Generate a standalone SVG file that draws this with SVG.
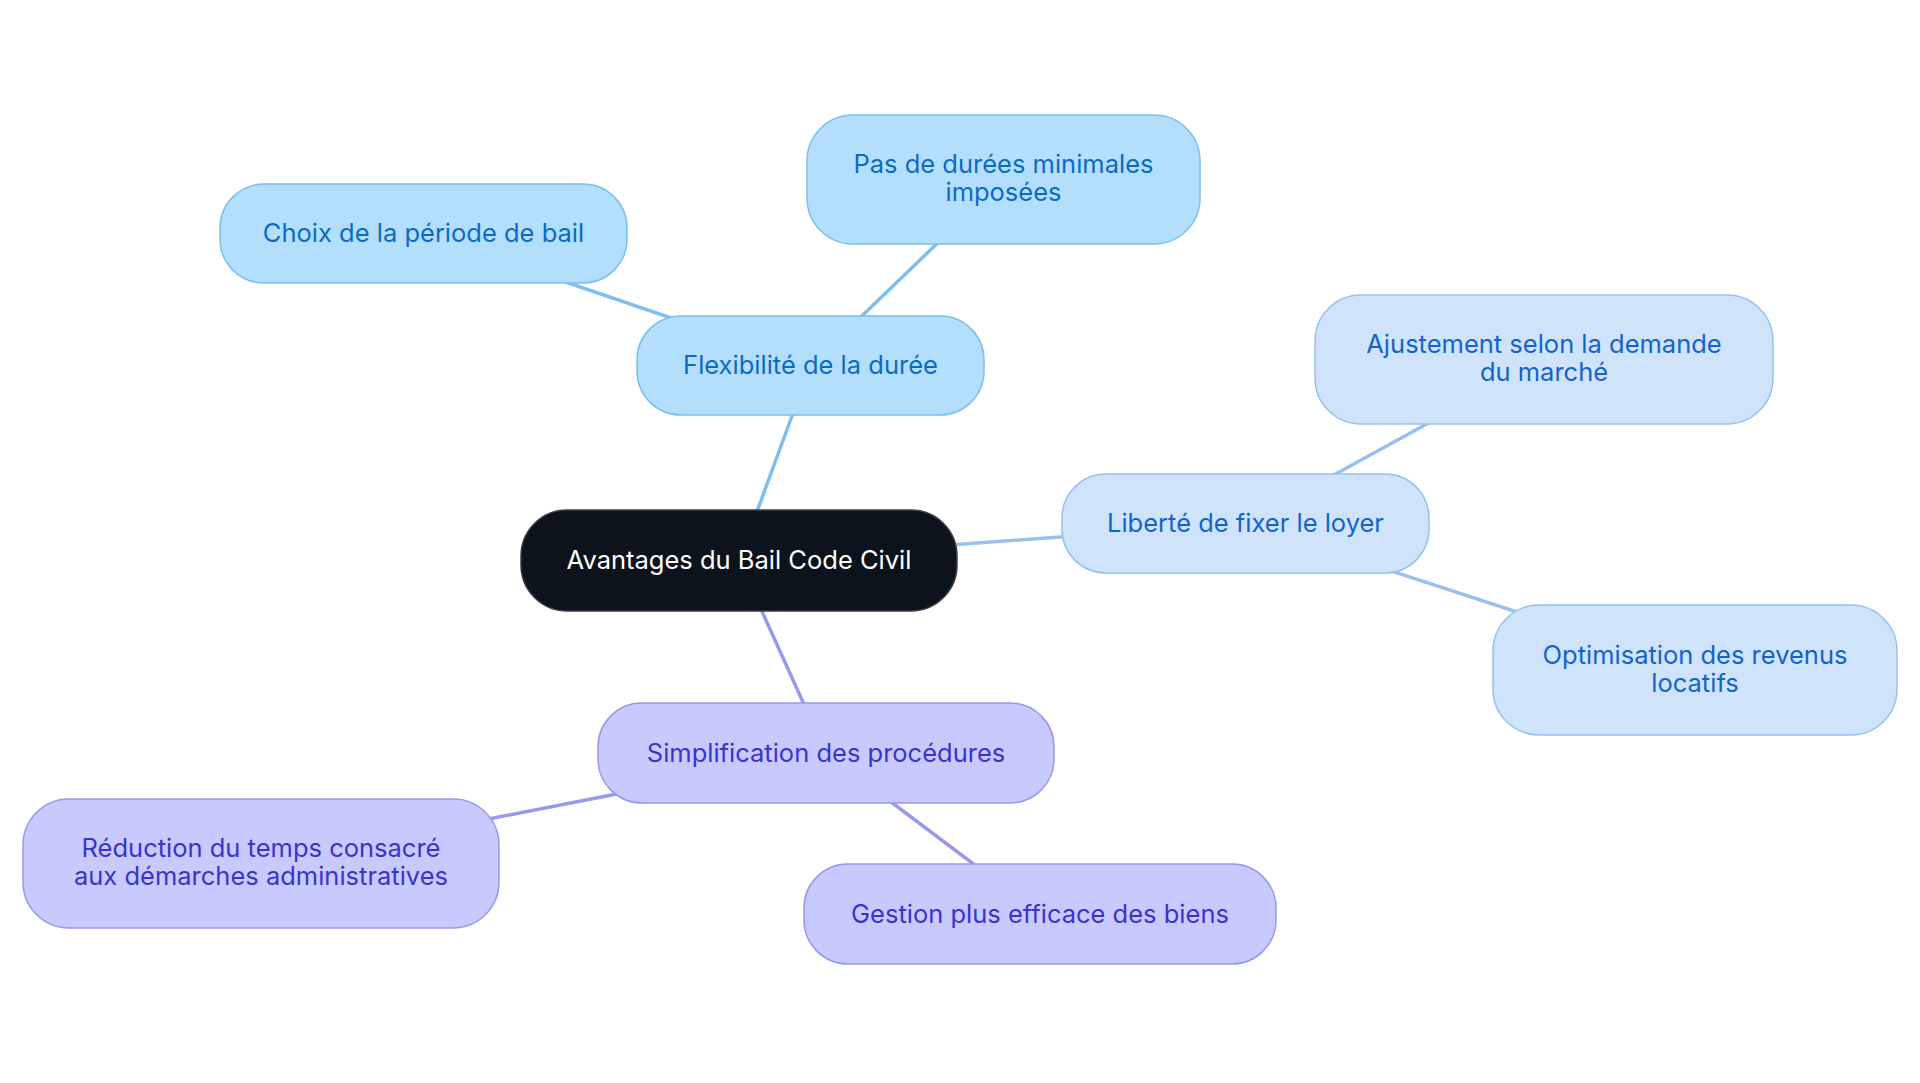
<svg xmlns="http://www.w3.org/2000/svg" width="1920" height="1083" viewBox="0 0 1920 1083">
<style>
text{font-family:Inter,"Noto Sans","Liberation Sans",sans-serif;font-size:25.5px;text-anchor:middle}
.c0 rect{fill:#0d131c;stroke:#3a3f47;stroke-width:1.5}
.c0 text{fill:#ffffff}
.c1 rect{fill:#b3dffc;stroke:#7dbff0;stroke-width:1.5}
.c1 text{fill:#0b6bc4}
.c2 rect{fill:#cfe3fb;stroke:#98c1f0;stroke-width:1.5}
.c2 text{fill:#1463cc}
.c3 rect{fill:#c8cafd;stroke:#9799ee;stroke-width:1.5}
.c3 text{fill:#3a33cf}
.e1{stroke:#7dbff0}
.e2{stroke:#98c1f0}
.e3{stroke:#9799ee}
#edges line{stroke-width:3.5;stroke-linecap:round}
</style>
<rect width="1920" height="1083" fill="#ffffff"/>
<g id="edges">
<line class="e1" x1="739" y1="560.5" x2="810.5" y2="365.5"/>
<line class="e1" x1="810.5" y1="365.5" x2="423.5" y2="233.5"/>
<line class="e1" x1="810.5" y1="365.5" x2="1003.5" y2="179.5"/>
<line class="e2" x1="739" y1="560.5" x2="1245.5" y2="523.5"/>
<line class="e2" x1="1245.5" y1="523.5" x2="1544" y2="359.5"/>
<line class="e2" x1="1245.5" y1="523.5" x2="1695" y2="670"/>
<line class="e3" x1="739" y1="560.5" x2="826" y2="753"/>
<line class="e3" x1="826" y1="753" x2="261" y2="863.5"/>
<line class="e3" x1="826" y1="753" x2="1040" y2="914"/>
</g>
<g id="root" class="c0"><rect x="521" y="510" width="436" height="101" rx="46"/><text x="739" y="569">Avantages du Bail Code Civil</text></g>
<g id="flex" class="c1"><rect x="637" y="316" width="347" height="99" rx="44"/><text x="810.5" y="374">Flexibilité de la durée</text></g>
<g id="choix" class="c1"><rect x="220" y="184" width="407" height="99" rx="44"/><text x="423.5" y="242">Choix de la période de bail</text></g>
<g id="pas" class="c1"><rect x="807" y="115" width="393" height="129" rx="46"/><text x="1003.5" y="173">Pas de durées minimales</text><text x="1003.5" y="201">imposées</text></g>
<g id="liberte" class="c2"><rect x="1062" y="474" width="367" height="99" rx="44"/><text x="1245.5" y="532">Liberté de fixer le loyer</text></g>
<g id="ajust" class="c2"><rect x="1315" y="295" width="458" height="129" rx="46"/><text x="1544" y="353">Ajustement selon la demande</text><text x="1544" y="381">du marché</text></g>
<g id="optim" class="c2"><rect x="1493" y="605" width="404" height="130" rx="46"/><text x="1695" y="663.5">Optimisation des revenus</text><text x="1695" y="691.5">locatifs</text></g>
<g id="simpl" class="c3"><rect x="598" y="703" width="456" height="100" rx="44"/><text x="826" y="761.5">Simplification des procédures</text></g>
<g id="reduc" class="c3"><rect x="23" y="799" width="476" height="129" rx="46"/><text x="261" y="857">Réduction du temps consacré</text><text x="261" y="885">aux démarches administratives</text></g>
<g id="gestion" class="c3"><rect x="804" y="864" width="472" height="100" rx="44"/><text x="1040" y="922.5">Gestion plus efficace des biens</text></g>
</svg>
